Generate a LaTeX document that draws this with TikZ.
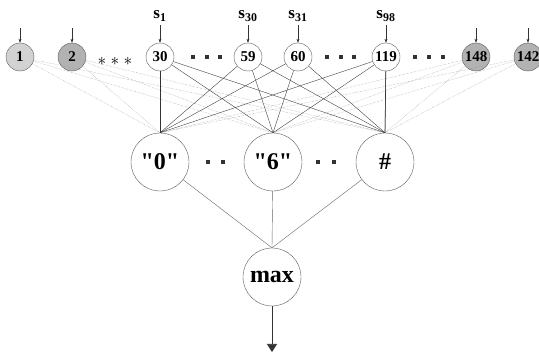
\documentclass[tikz,border=0pt]{standalone}
\usepackage{tikz}
\usepackage{fontspec}
\setmainfont{Liberation Serif}
\usetikzlibrary{arrows.meta,calc}
\tikzset{
  cell/.style={circle,draw=black!65,thin,minimum size=28pt,inner sep=0pt,font=\bfseries\fontsize{15}{15}\selectfont},
  grey/.style={cell,fill=gray!60},
  pale/.style={cell,fill=gray!35},
  big/.style={circle,draw=black!65,thin,minimum size=58pt,inner sep=0pt,font=\bfseries\fontsize{24}{24}\selectfont},
  wire/.style={black!75,thin},
  faint/.style={gray!85,densely dotted,thin},
  feed/.style={-{Stealth[length=4pt,width=3pt]},black!80},
  sq/.style={fill=black!80,minimum size=4.5pt,inner sep=0pt},
  lab/.style={font=\bfseries\fontsize{17}{17}\selectfont}
}
\begin{document}
\begin{tikzpicture}[x=1pt,y=-1pt]
  \useasboundingbox (0,0) rectangle (539,355);
  % input units
  \node[pale] (in1) at (20,57) {1};
  \node[grey] (in2) at (72,57) {2};
  \node[cell] (in30) at (160,57) {30};
  \node[cell] (in59) at (248,57) {59};
  \node[cell] (in60) at (298,57) {60};
  \node[cell] (in119) at (386,57) {119};
  \node[grey] (in148) at (476,57) {148};
  \node[grey] (in142) at (528,57) {142};
  % labels and feeding arrows
  \node[lab] (s1) at (160,16) {s\textsubscript{1}};
  \node[lab] (s30) at (248,16) {s\textsubscript{30}};
  \node[lab] (s31) at (298,16) {s\textsubscript{31}};
  \node[lab] (s98) at (386,16) {s\textsubscript{98}};
  \foreach \s/\n in {s1/in30,s30/in59,s31/in60,s98/in119}
    \draw[feed] (\s) -- (\n);
  \foreach \n in {in1,in2,in148,in142}
    \draw[feed] ($(\n.north)+(0,-15)$) coordinate (t\n) -- (\n);
  % dots between units
  \foreach \x in {102,115,128} \node[font=\bfseries\fontsize{18}{18}\selectfont] (st\x) at (\x,61) {$\ast$};
  \foreach \x in {193,207,220,327,341,354,415,429,443} \node[sq] (d\x) at (\x,57) {};
  % class units
  \node[big] (c0) at (160,162) {\textquotedbl0\textquotedbl};
  \node[big] (c6) at (273,162) {\textquotedbl6\textquotedbl};
  \node[big] (ch) at (385,162) {\#};
  \foreach \x in {208,223,318,334} \node[sq] (m\x) at (\x,162) {};
  \node[big] (mx) at (272,277) {max};
  % connections
  \foreach \a in {in1,in2,in148,in142}
    \foreach \b in {c0,c6,ch}
      \draw[faint] (\a) -- (\b.north);
  \foreach \a in {in30,in59,in60,in119}
    \foreach \b in {c0,c6,ch}
      \draw[wire] (\a) -- (\b.north);
  \draw[black!80,semithick] (in30) -- (c0.north);
  \draw[black!80,semithick] (in119) -- (ch.north);
  \foreach \b in {c0,c6,ch}
    \draw[wire,black!60] (\b) -- (mx.north);
  % output
  \coordinate (out) at (272,352);
  \draw[-{Triangle[width=10pt,length=8pt]},black!80,semithick] (mx) -- (out);
\end{tikzpicture}
\end{document}
